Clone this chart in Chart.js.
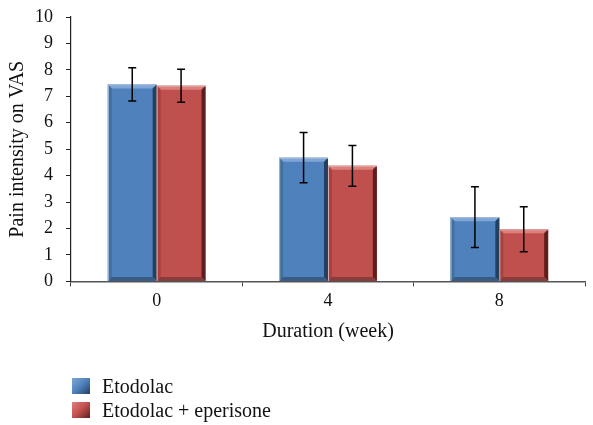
<!DOCTYPE html>
<html lang="en">
<head>
    <meta charset="UTF-8">
    <title>Pain intensity on VAS</title>
    <script src="https://cdn.jsdelivr.net/npm/chart.js"></script>
    <style>
        body {
            margin: 0;
            background: #fff;
            font-family: 'Liberation Serif', serif;
        }

        .wrap {
            position: relative;
            width: 593px;
            height: 425px;
        }

        #chart {
            position: absolute;
            left: 0;
            top: 0;
        }

        /* legend under the chart, left aligned like the original */
        .legend {
            position: absolute;
            left: 72px;
            top: 374px;
            font-size: 20px;
            color: #111;
        }

        .legend div {
            height: 24px;
            display: flex;
            align-items: center;
        }

        .legend span.box {
            display: inline-block;
            width: 18px;
            height: 16px;
            margin-right: 12px;
        }
    </style>
</head>
<body>

<div class="wrap">
    <canvas id="chart" width="593" height="425"></canvas>
    <div class="legend" id="legend"></div>
</div>

<script>
    // data
    const weeks = ['0', '4', '8'];
    const etodolac = [7.45, 4.68, 2.43];
    const etodolacErr = [0.63, 0.95, 1.15];
    const combo = [7.4, 4.37, 1.97];
    const comboErr = [0.62, 0.77, 0.85];
    const yTicks = [0, 1, 2, 3, 4, 5, 6, 7, 8, 9, 10];

    const seriesNames = ['Etodolac', 'Etodolac + eperisone'];
    const colors = [
        { face: '#4f81bd', light: '#7fa6d6', left: '#41709f', dark: '#22405f', bottom: '#385c85', rim: '#a8bcd8' },
        { face: '#c0504d', light: '#de7f7c', left: '#a8423f', dark: '#5c1f1d', bottom: '#8a3c3a', rim: '#d9a9a8' }
    ];

    // soft bevel look for the bars
    const bevelPlugin = {
        id: 'bevel',
        afterDatasetsDraw(chart) {
            const ctx = chart.ctx;
            chart.data.datasets.forEach((ds, i) => {
                const c = colors[i];
                chart.getDatasetMeta(i).data.forEach(bar => {
                    const l = bar.x - bar.width / 2, r = bar.x + bar.width / 2;
                    const t = bar.y, b = bar.base;
                    const e = 4;
                    ctx.save();
                    ctx.fillStyle = c.light;
                    ctx.beginPath();
                    ctx.moveTo(l, t); ctx.lineTo(r, t); ctx.lineTo(r - e, t + e); ctx.lineTo(l + e, t + e);
                    ctx.fill();
                    ctx.fillStyle = c.left;
                    ctx.beginPath();
                    ctx.moveTo(l, t); ctx.lineTo(l, b); ctx.lineTo(l + e, b - e); ctx.lineTo(l + e, t + e);
                    ctx.fill();
                    ctx.fillStyle = c.dark;
                    ctx.beginPath();
                    ctx.moveTo(r, t); ctx.lineTo(r, b); ctx.lineTo(r - e, b - e); ctx.lineTo(r - e, t + e);
                    ctx.fill();
                    ctx.fillStyle = c.bottom;
                    ctx.beginPath();
                    ctx.moveTo(l, b); ctx.lineTo(r, b); ctx.lineTo(r - e, b - e); ctx.lineTo(l + e, b - e);
                    ctx.fill();
                    // thin light rim on the left and top
                    ctx.strokeStyle = c.rim;
                    ctx.lineWidth = 1;
                    ctx.beginPath();
                    ctx.moveTo(l + 0.5, b); ctx.lineTo(l + 0.5, t + 0.5); ctx.lineTo(r, t + 0.5);
                    ctx.stroke();
                    ctx.restore();
                });
            });
        }
    };

    // error bars, drawn through the y scale
    const errorPlugin = {
        id: 'errbars',
        afterDatasetsDraw(chart) {
            const ctx = chart.ctx;
            const y = chart.scales.y;
            const errs = [etodolacErr, comboErr];
            ctx.save();
            ctx.strokeStyle = '#000';
            ctx.lineWidth = 1.5;
            chart.data.datasets.forEach((ds, i) => {
                chart.getDatasetMeta(i).data.forEach((bar, j) => {
                    const v = ds.data[j];
                    const hi = y.getPixelForValue(v + errs[i][j]);
                    const lo = y.getPixelForValue(v - errs[i][j]);
                    ctx.beginPath();
                    ctx.moveTo(bar.x, hi); ctx.lineTo(bar.x, lo);
                    ctx.moveTo(bar.x - 4, hi); ctx.lineTo(bar.x + 4, hi);
                    ctx.moveTo(bar.x - 4, lo); ctx.lineTo(bar.x + 4, lo);
                    ctx.stroke();
                });
            });
            ctx.restore();
        }
    };

    const font = { family: "'Liberation Serif', serif", size: 18 };
    const titleFont = { family: "'Liberation Serif', serif", size: 20 };

    const chart = new Chart(document.getElementById('chart'), {
        type: 'bar',
        data: {
            labels: weeks,
            datasets: [
                { label: seriesNames[0], data: etodolac, backgroundColor: colors[0].face },
                { label: seriesNames[1], data: combo, backgroundColor: colors[1].face }
            ]
        },
        options: {
            responsive: false,
            animation: false,
            events: [],
            layout: { padding: { top: 17, right: 8, left: 0, bottom: 77 } },
            datasets: {
                bar: { categoryPercentage: 0.57, barPercentage: 1.0 }
            },
            plugins: {
                legend: { display: false },
                tooltip: { enabled: false }
            },
            scales: {
                x: {
                    grid: { drawOnChartArea: false, tickLength: 5, color: '#444' },
                    border: { color: '#555', width: 1.5 },
                    ticks: { color: '#111', font: font, padding: 4 },
                    title: { display: true, text: 'Duration (week)', color: '#111', font: titleFont, padding: { top: 4 } }
                },
                y: {
                    min: 0,
                    max: 10,
                    afterBuildTicks(scale) {
                        scale.ticks = yTicks.map(v => ({ value: v }));
                    },
                    afterFit(scale) {
                        scale.width = 71;
                        scale.paddingTop = 0;
                        scale.paddingBottom = 0;
                    },
                    grid: { drawOnChartArea: false, tickLength: 5, color: '#222' },
                    border: { color: '#222', width: 1.2 },
                    ticks: { color: '#111', font: font, padding: 13 },
                    title: { display: true, text: 'Pain intensity on VAS', color: '#111', font: titleFont, padding: { top: 6, bottom: 0 } }
                }
            }
        },
        plugins: [bevelPlugin, errorPlugin]
    });

    // html legend
    const legend = document.getElementById('legend');
    seriesNames.forEach((name, i) => {
        const row = document.createElement('div');
        const box = document.createElement('span');
        box.className = 'box';
        box.style.background = 'linear-gradient(135deg, ' + colors[i].light + ', ' + colors[i].face + ' 50%, ' + colors[i].dark + ')';
        row.appendChild(box);
        row.appendChild(document.createTextNode(name));
        legend.appendChild(row);
    });
</script>
</body>
</html>
